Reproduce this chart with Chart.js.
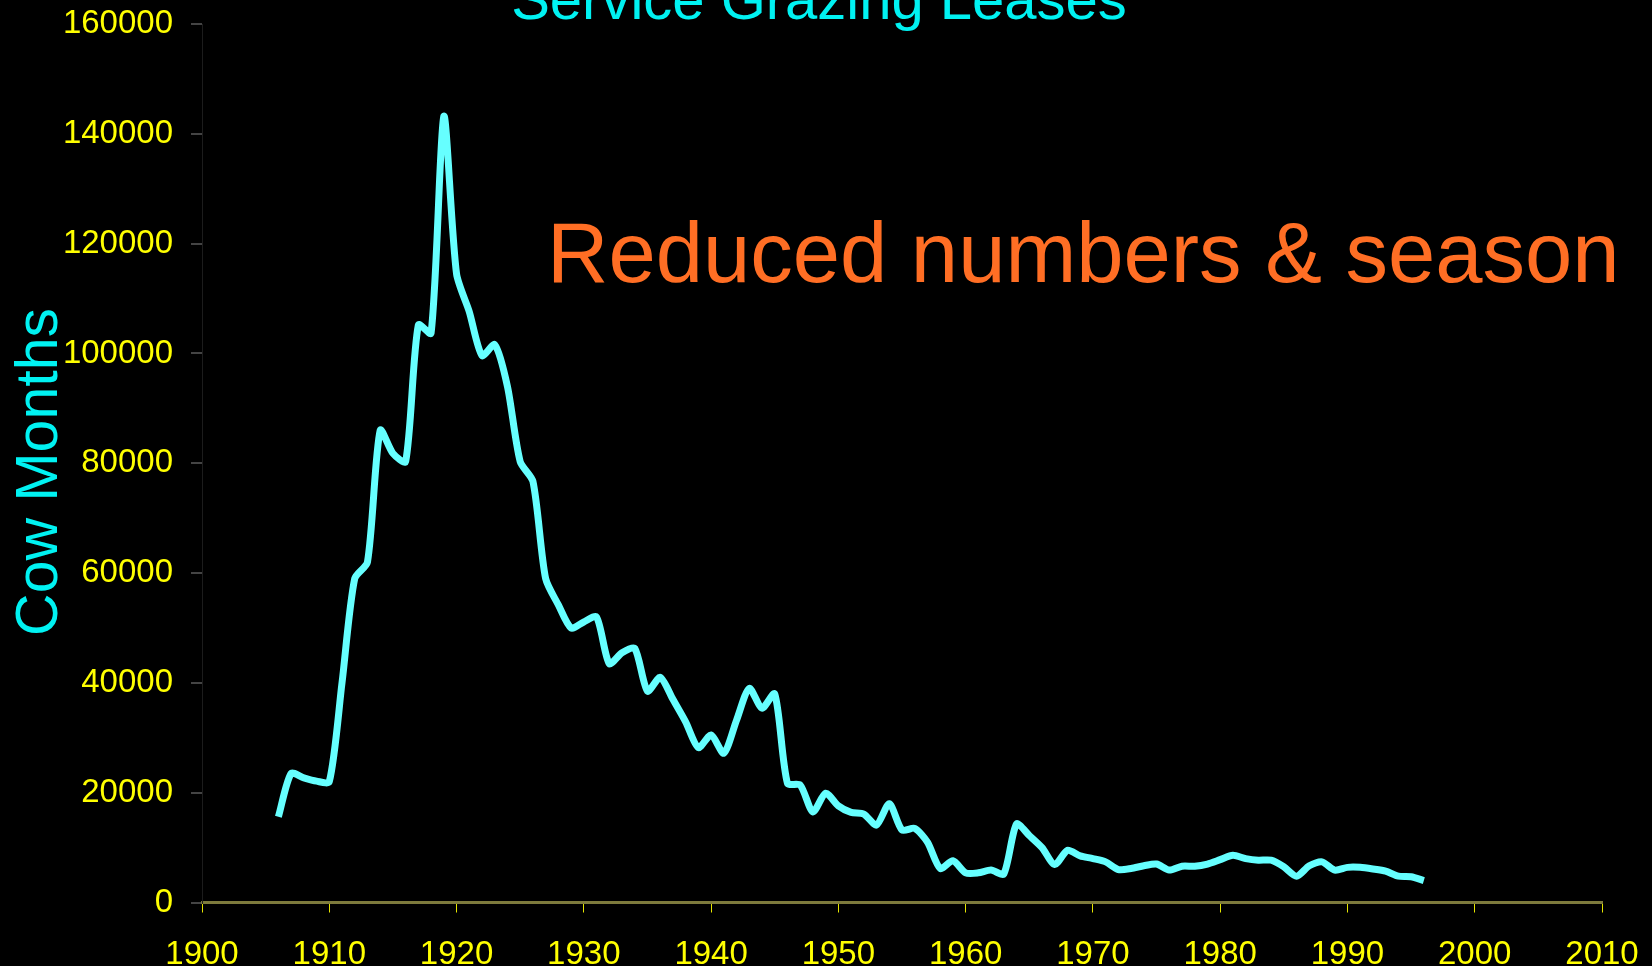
<!DOCTYPE html>
<html>
<head>
<meta charset="utf-8">
<title>Service Grazing Leases</title>
<script src="https://cdn.jsdelivr.net/npm/chart.js@4.4.0/dist/chart.umd.min.js"></script>
<style>
	html, body { margin: 0; padding: 0; background: #000; }
	.chart_wrap { position: relative; width: 1652px; height: 966px; }
</style>
</head>
<body>
<div class="chart_wrap">
	<canvas id="grazingChart" width="1652" height="966"></canvas>
</div>
<script>
/*
 * 데이터
 */
const years = [
	1906, 1907, 1908, 1909, 1910, 1911, 1912, 1913, 1914, 1915,
	1916, 1917, 1918, 1919, 1920, 1921, 1922, 1923, 1924, 1925,
	1926, 1927, 1928, 1929, 1930, 1931, 1932, 1933, 1934, 1935,
	1936, 1937, 1938, 1939, 1940, 1941, 1942, 1943, 1944, 1945,
	1946, 1947, 1948, 1949, 1950, 1951, 1952, 1953, 1954, 1955,
	1956, 1957, 1958, 1959, 1960, 1961, 1962, 1963, 1964, 1965,
	1966, 1967, 1968, 1969, 1970, 1971, 1972, 1973, 1974, 1975,
	1976, 1977, 1978, 1979, 1980, 1981, 1982, 1983, 1984, 1985,
	1986, 1987, 1988, 1989, 1990, 1991, 1992, 1993, 1994, 1995,
	1996
];
const cowMonths = [
	15600, 23500, 22700, 22100, 22000, 40000, 59000, 62000, 86000, 81800,
	80300, 105200, 103700, 143200, 114500, 107600, 99600, 101600, 94000, 80300,
	76700, 59000, 54200, 50000, 51100, 52000, 43500, 45500, 46300, 38500,
	41000, 37000, 32900, 28200, 30500, 27200, 33200, 39000, 35400, 38000,
	21700, 21400, 16500, 19900, 17600, 16400, 16100, 14100, 18000, 13200,
	13500, 11000, 6200, 7600, 5400, 5400, 5900, 5200, 14300, 12200,
	10000, 6900, 9500, 8500, 8000, 7400, 6000, 6200, 6700, 7000,
	5900, 6600, 6600, 7000, 7800, 8600, 8000, 7700, 7700, 6500,
	4800, 6700, 7400, 5900, 6400, 6400, 6100, 5700, 4800, 4700,
	4000
];
const yearTicks = [1900, 1910, 1920, 1930, 1940, 1950, 1960, 1970, 1980, 1990, 2000, 2010];
const valueTicks = [0, 20000, 40000, 60000, 80000, 100000, 120000, 140000, 160000];

const chartTitle = 'Service Grazing Leases';
const noteText = 'Reduced numbers & season';
const yTitle = 'Cow Months';

const fontFamily = '"Liberation Sans", Arial, sans-serif';

// 제목, 세로축 제목, 주석 텍스트 (제목은 위쪽이 잘려 있음)
const textPlugin = {
	id: 'slideText',
	afterDraw(chart) {
		const ctx = chart.ctx;
		ctx.save();
		ctx.textBaseline = 'alphabetic';

		ctx.fillStyle = '#00f2f2';
		ctx.font = '58px ' + fontFamily;
		ctx.textAlign = 'center';
		ctx.fillText(chartTitle, 819, 19);

		ctx.fillStyle = '#ff6e24';
		ctx.font = '85px ' + fontFamily;
		ctx.textAlign = 'left';
		ctx.fillText(noteText, 547, 282);

		// 세로축 제목
		ctx.translate(41, 472);
		ctx.rotate(-Math.PI / 2);
		ctx.fillStyle = '#00f2f2';
		ctx.font = '59px ' + fontFamily;
		ctx.textAlign = 'center';
		ctx.textBaseline = 'middle';
		ctx.fillText(yTitle, 0, 0);
		ctx.restore();
	}
};

new Chart(document.getElementById('grazingChart'), {
	type: 'line',
	data: {
		datasets: [{
			label: yTitle,
			data: years.map((y, i) => ({ x: y, y: cowMonths[i] })),
			borderColor: '#66ffff',
			borderWidth: 7,
			pointRadius: 0,
			fill: false,
			tension: 0.25
		}]
	},
	options: {
		responsive: false,
		animation: false,
		layout: {
			padding: { top: 24, right: 50, left: 0, bottom: 0 }
		},
		plugins: {
			legend: { display: false },
			tooltip: { enabled: false }
		},
		scales: {
			x: {
				type: 'linear',
				min: 1900,
				max: 2010,
				afterBuildTicks: function(scale) {
					scale.ticks = yearTicks.map(v => ({ value: v }));
				},
				afterFit: function(scale) {
					// 라벨 때문에 생기는 여백 제거
					scale.height = 63.5;
					scale.paddingLeft = 0;
					scale.paddingRight = 0;
				},
				border: { display: true, color: '#7d7a3c', width: 3 },
				grid: {
					drawOnChartArea: false,
					color: '#e6e600',
					lineWidth: 1,
					tickLength: 10
				},
				ticks: {
					color: '#ffff00',
					padding: 23,
					maxRotation: 0,
					autoSkip: false,
					font: { family: fontFamily, size: 33 },
					callback: function(value) {
						return String(value);
					}
				}
			},
			y: {
				min: 0,
				max: 160000,
				afterBuildTicks: function(scale) {
					scale.ticks = valueTicks.map(v => ({ value: v }));
				},
				afterFit: function(scale) {
					scale.width = 202;
					scale.paddingTop = 0;
					scale.paddingBottom = 0;
				},
				border: { display: true, color: '#1c1c1c', width: 1 },
				grid: {
					drawOnChartArea: false,
					color: '#444444',
					lineWidth: 2,
					tickLength: 11
				},
				ticks: {
					color: '#ffff00',
					padding: 18,
					autoSkip: false,
					font: { family: fontFamily, size: 33 },
					callback: function(value) {
						return String(value);
					}
				}
			}
		}
	},
	plugins: [textPlugin]
});
</script>
</body>
</html>
